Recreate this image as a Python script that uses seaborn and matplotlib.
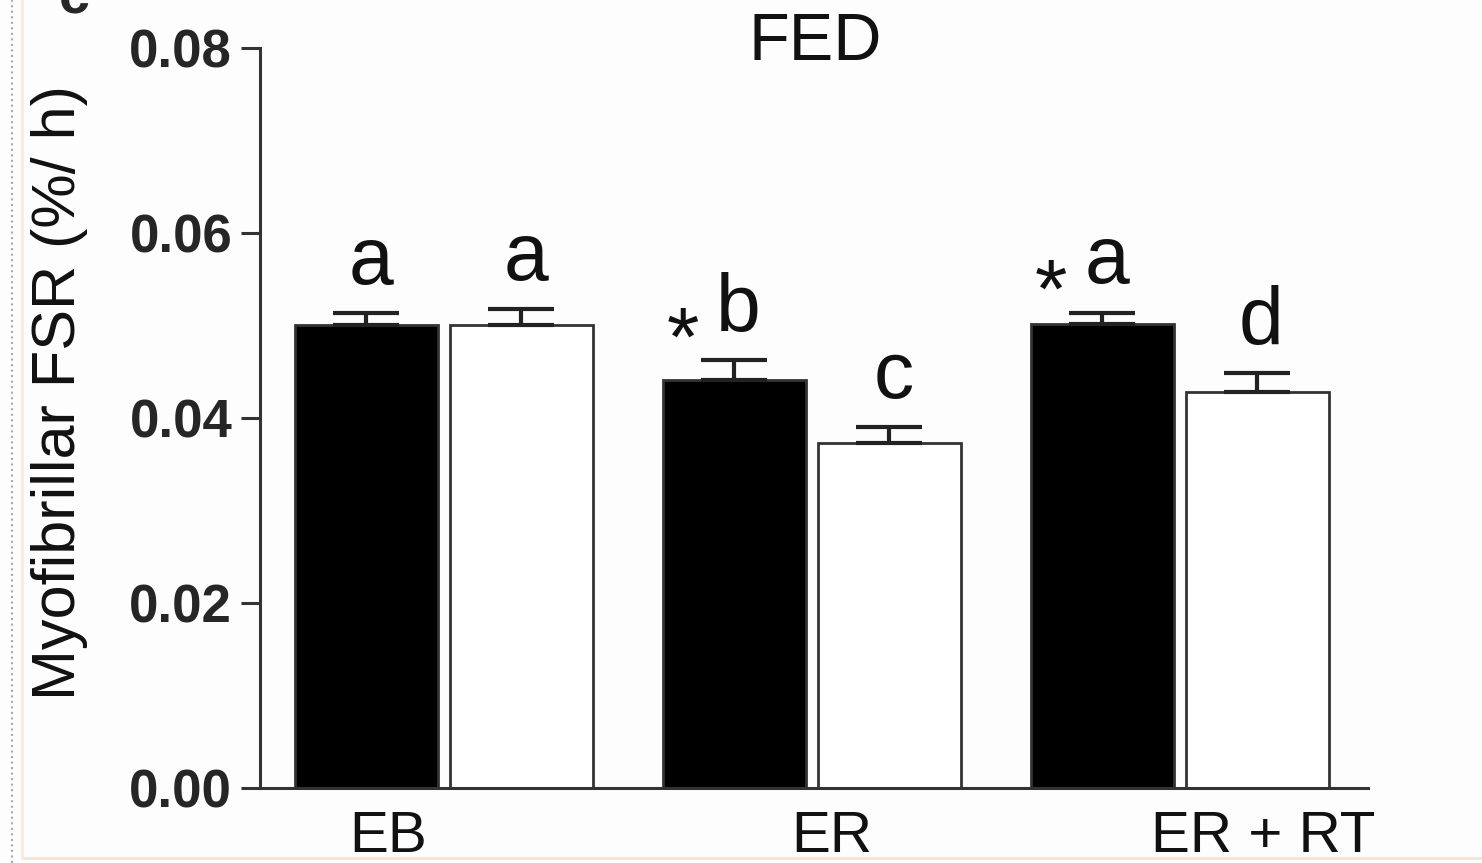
import numpy as np
import pandas as pd
import matplotlib
matplotlib.use('Agg')
from matplotlib import pyplot as plt
import matplotlib.transforms as mtrans
import seaborn as sns

groups = ['EB', 'ER', 'ER + RT']
series = ['filled', 'open']
filled_vals = [0.0500, 0.0441, 0.0502]
filled_err = [0.0013, 0.0022, 0.0012]
open_vals = [0.0500, 0.0373, 0.0428]
open_err = [0.0018, 0.0017, 0.0021]
filled_letters = ['a', 'b', 'a']
open_letters = ['a', 'c', 'd']
filled_star = [False, True, True]
yticks = [0.00, 0.02, 0.04, 0.06, 0.08]

df = pd.DataFrame({
    'group': groups * 2,
    'series': ['filled'] * 3 + ['open'] * 3,
    'value': filled_vals + open_vals,
})

sns.set_style('ticks')
plt.rcParams['font.family'] = ['Liberation Sans', 'DejaVu Sans']

fig = plt.figure(figsize=(14.82, 8.63), dpi=100, facecolor='#fdfdfd')
ax = fig.add_axes([0.1754, 0.0869, 0.7476, 0.8575])
ax.set_facecolor('#fdfdfd')

sns.barplot(data=df, x='group', y='value', hue='series', order=groups, hue_order=series,
            palette={'filled': 'black', 'open': 'white'}, width=0.842, gap=0.08,
            edgecolor='#333333', linewidth=2, legend=False, ax=ax)

errs = [filled_err, open_err]
vals = [filled_vals, open_vals]
letters = [filled_letters, open_letters]
bar_conts = list(ax.containers)
for k, cont in enumerate(bar_conts):
    xs = [p.get_x() + p.get_width() / 2 for p in cont.patches]
    ax.errorbar(xs, vals[k], yerr=[np.zeros(3), errs[k]], fmt='none', ecolor='#222222',
                elinewidth=3, capsize=24, capthick=3, zorder=5)
    for i in range(3):
        top = vals[k][i] + errs[k][i]
        ax.annotate(letters[k][i], (xs[i], top), xytext=(3, 21), textcoords='offset points',
                    ha='center', va='baseline', fontsize=58, color='#111111')
        if k == 0 and filled_star[i]:
            ax.annotate('*', (xs[i], top), xytext=(-37, -4), textcoords='offset points',
                        ha='center', va='baseline', fontsize=60, color='#111111')

ax.set_xlim(-0.5, 2.511)
ax.set_ylim(0, 0.08)
ax.set_yticks(yticks)
ax.set_yticklabels(['%.2f' % t for t in yticks], fontsize=38, fontweight='bold')
ax.tick_params(axis='y', length=14, width=2.2, color='#333333', pad=6)
ax.tick_params(axis='x', length=0, pad=16, labelsize=42)
ax.set_xticks([0, 1, 2])
ax.set_xticklabels(groups)
shifts = [-40, 14, 60]
for lab, s in zip(ax.get_xticklabels(), shifts):
    lab.set_transform(lab.get_transform() + mtrans.ScaledTranslation(s / 72, 0, fig.dpi_scale_trans))
    lab.set_color('#111111')

ax.set_xlabel('')
ax.set_ylabel('Myofibrillar FSR (%/ h)', fontsize=44, color='#111111')
ax.yaxis.set_label_coords(-0.155, 0.535)

sns.despine(ax=ax)
for sp in ['left', 'bottom']:
    ax.spines[sp].set_linewidth(2.2)
    ax.spines[sp].set_color('#333333')

fig.text(0.55, 0.930, 'FED', ha='center', va='baseline', fontsize=48, color='#111111')
# panel letter, cut off at the top edge like in the source
fig.text(0.05, 1.0, 'c', ha='center', va='center', fontsize=40, fontweight='bold')
fig.add_artist(plt.Line2D([0.008, 0.008], [0, 1], transform=fig.transFigure,
                          color='#aaaaaa', linestyle=':', linewidth=1.5))
fig.add_artist(plt.Line2D([0.015, 1], [0.006, 0.006], transform=fig.transFigure,
                          color='#f3e4d6', linewidth=2))
fig.add_artist(plt.Line2D([0.015, 0.015], [0.006, 1], transform=fig.transFigure,
                          color='#f6ebe0', linewidth=2))

fig.savefig('out.png', dpi=100, facecolor=fig.get_facecolor())
plt.close()
